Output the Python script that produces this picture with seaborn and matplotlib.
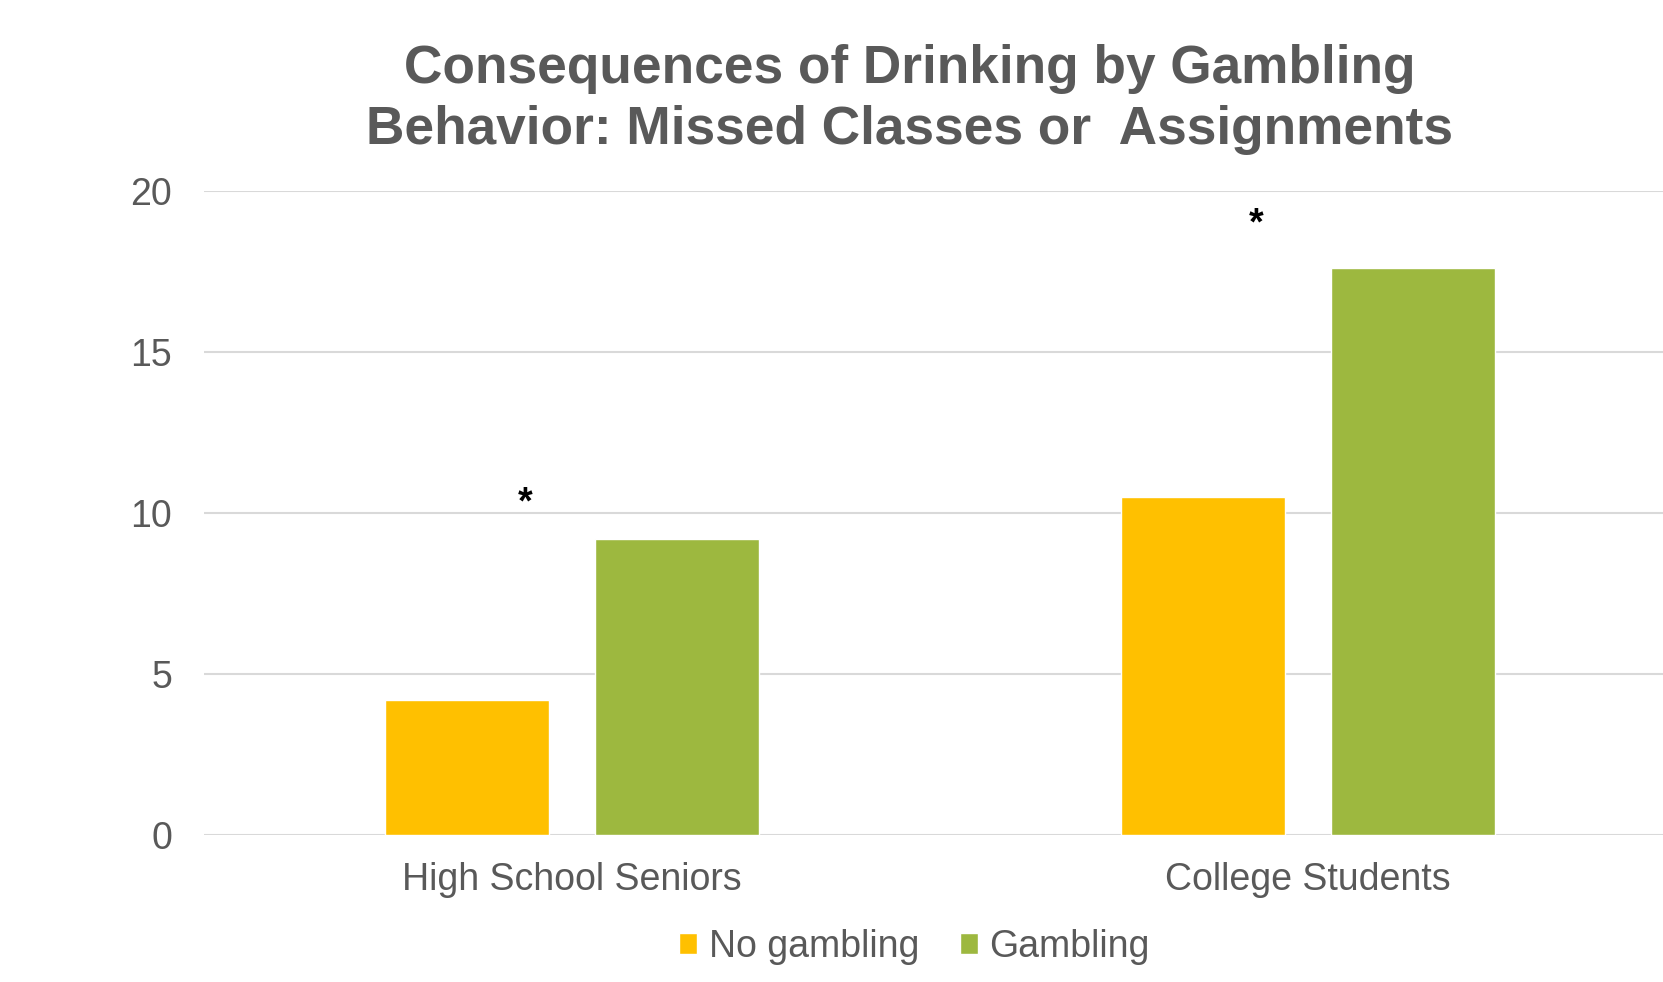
import matplotlib
matplotlib.use("Agg")
import matplotlib.pyplot as plt
import seaborn as sns
import pandas as pd

categories = ["High School Seniors", "College Students"]
series = ["No gambling", "Gambling"]
no_gambling = [4.2, 10.5]
gambling = [9.2, 17.6]
yticks = [0, 5, 10, 15, 20]
colors = ["#FFC000", "#9DB83F"]
title = "Consequences of Drinking by Gambling\nBehavior: Missed Classes or  Assignments"
star_x = [-0.064, 0.93]
star_y = [10.3, 18.95]

df = pd.DataFrame({
    "cat": categories * 2,
    "series": [series[0]] * 2 + [series[1]] * 2,
    "val": no_gambling + gambling,
})

sns.set_style("white")
plt.rcParams["font.family"] = ["Liberation Sans", "DejaVu Sans"]

fig = plt.figure(figsize=(16.63, 9.82), dpi=100)
ax = fig.add_axes([0.1228, 0.150, 0.885, 0.6556])

sns.barplot(data=df, x="cat", y="val", hue="series", order=categories,
            hue_order=series, palette=colors, width=0.571, gap=0.218,
            saturation=1, ax=ax, legend=True)

ax.set_xlim(-0.5, 1.5)
ax.set_ylim(0, 20)
ax.set_yticks(yticks)
ax.yaxis.grid(True, color="#D9D9D9", linewidth=1.5)
ax.set_axisbelow(True)
for s in ["top", "right", "left", "bottom"]:
    ax.spines[s].set_visible(False)
ax.tick_params(axis="both", length=0, labelsize=27, colors="#595959")
ax.tick_params(axis="x", pad=20)
ax.tick_params(axis="y", pad=23)
ax.set_xlabel("")
ax.set_ylabel("")

for x, y in zip(star_x, star_y):
    ax.text(x, y, "*", ha="center", va="center", fontsize=27,
            fontweight="bold", color="black")

handles, labels = ax.get_legend_handles_labels()
ax.legend_.remove()
fig.legend(handles, labels, loc="center", bbox_to_anchor=(0.550, 0.036),
           ncol=2, frameon=False, fontsize=27, labelcolor="#595959",
           handlelength=0.48, handleheight=0.48, handletextpad=0.3,
           columnspacing=1.1)

fig.text(0.547, 0.899, title, ha="center", va="center", fontsize=38.3,
         fontweight="bold", color="#595959", linespacing=1.28)

fig.savefig("out.png", dpi=100, facecolor="white")
